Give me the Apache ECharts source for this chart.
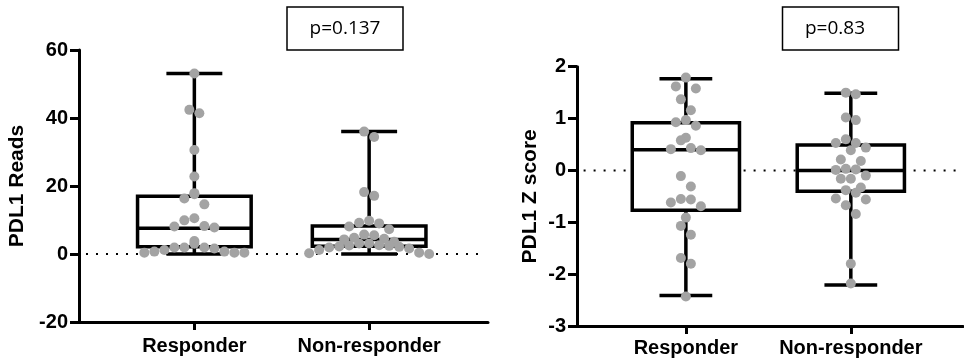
<!DOCTYPE html>
<html>
<head>
<meta charset="utf-8">
<script src="https://cdn.jsdelivr.net/npm/echarts@6/dist/echarts.min.js"></script>
<style>
    html, body {margin: 0; padding: 0; background: #fff;}
    #chartWrap {width: 964px; height: 358px;}
</style>
</head>
<body>
<div id="chartWrap"></div>
<script>
// categories and labels
const categories = ['Responder', 'Non-responder'];
const readsTicks = [-20, 0, 20, 40, 60];
const zTicks = [-3, -2, -1, 0, 1, 2];
const pLabels = ['p=0.137', 'p=0.83'];

// PDL1 reads, one value per patient
const readsResponder = [53.1, 42.4, 41.4, 30.6, 22.8, 17.9, 17.6, 16.3, 14.6, 10.5, 9.9, 8.2, 8.1, 7.8,
    3.8, 3.0, 1.9, 1.9, 1.9, 1.6, 1.2, 0.7, 0.7, 0.4, 0.4, 0.4];
const readsNonResponder = [36.0, 34.4, 18.2, 17.1, 9.8, 9.2, 9.0, 8.1, 7.3, 5.7, 5.5, 4.8, 4.5, 4.3,
    3.6, 3.1, 3.1, 2.6, 2.5, 2.4, 2.2, 2.1, 1.9, 1.6, 1.2, 0.4, 0.2, 0.0];

// PDL1 Z score
const zResponder = [1.79, 1.62, 1.58, 1.37, 1.16, 0.97, 0.93, 0.86, 0.63, 0.58, 0.43, 0.41, 0.39,
    -0.11, -0.31, -0.55, -0.56, -0.62, -0.69, -0.91, -1.07, -1.24, -1.69, -1.80, -2.43];
const zNonResponder = [1.50, 1.47, 1.02, 0.97, 0.60, 0.53, 0.53, 0.44, 0.39, 0.21, 0.18, 0.03, 0.02,
    0.01, -0.10, -0.16, -0.16, -0.33, -0.38, -0.43, -0.54, -0.56, -0.67, -0.84, -1.80, -2.18];

// box stats: min, q1, median, q3, max
const readsBoxResponder = [0, 2.1, 7.6, 17.0, 53.1];
const readsBoxNonResponder = [0, 2.3, 4.3, 8.2, 36.0];
const zBoxResponder = [-2.41, -0.77, 0.40, 0.92, 1.77];
const zBoxNonResponder = [-2.21, -0.40, 0.0, 0.49, 1.49];

const BOX_HW = 0.325;
const CAP_HW = 0.16;
const DOT_R = 5;
const DOT_GAP = 10;
const ROW_H = 11;
const DOT_COLOR = '#a3a3a3';
const X_MIN = -0.66, X_MAX = 1.68;

const boldFont = {fontFamily: 'Liberation Sans', fontWeight: 'bold', color: '#000'};

function boxSeries(idx, boxes) {
    return {
        type: 'custom',
        xAxisIndex: idx,
        yAxisIndex: idx,
        z: 2,
        silent: true,
        data: boxes.map((b, i) => [i].concat(b)),
        encode: {x: 0, y: [1, 2, 3, 4, 5]},
        renderItem: function (params, api) {
            const c = api.value(0);
            const y = [1, 2, 3, 4, 5].map(i => api.coord([c, api.value(i)])[1]);
            const xc = api.coord([c, 0])[0];
            const xl = api.coord([c - BOX_HW, 0])[0];
            const xr = api.coord([c + BOX_HW, 0])[0];
            const cl = api.coord([c - CAP_HW, 0])[0];
            const cr = api.coord([c + CAP_HW, 0])[0];
            const st = {stroke: '#000', lineWidth: 3.5};
            return {
                type: 'group',
                children: [
                    {type: 'line', shape: {x1: xc, y1: y[0], x2: xc, y2: y[4]}, style: st},
                    {type: 'line', shape: {x1: cl, y1: y[0], x2: cr, y2: y[0]}, style: st},
                    {type: 'line', shape: {x1: cl, y1: y[4], x2: cr, y2: y[4]}, style: st},
                    {type: 'rect', shape: {x: xl, y: y[3], width: xr - xl, height: y[1] - y[3]},
                        style: {fill: '#fff', stroke: '#000', lineWidth: 3.5}},
                    {type: 'line', shape: {x1: xl, y1: y[2], x2: xr, y2: y[2]}, style: st}
                ]
            };
        }
    };
}

// rows of dots spread sideways, biggest values in the middle
function layoutSwarm(values, cat, api) {
    const ys = values.map(v => api.coord([cat, v])[1]);
    const order = values.map((v, i) => i).sort((a, b) => ys[b] - ys[a]);
    const off = values.map(() => 0);
    let row = [];
    let rowStart = null;
    const flush = function () {
        const n = row.length;
        const pos = [];
        for (let k = 0; k < n; k++) pos.push((k - (n - 1) / 2) * DOT_GAP);
        pos.sort((a, b) => Math.abs(a) - Math.abs(b) || a - b);
        row.sort((a, b) => values[b] - values[a]);
        row.forEach((idx, k) => { off[idx] = pos[k]; });
        row = [];
    };
    order.forEach(function (i) {
        if (rowStart === null || rowStart - ys[i] >= ROW_H) {
            if (row.length) flush();
            rowStart = ys[i];
        }
        row.push(i);
    });
    if (row.length) flush();
    return off;
}

function swarmSeries(idx, cat, values) {
    let offsets = null;
    return {
        type: 'custom',
        xAxisIndex: idx,
        yAxisIndex: idx,
        z: 3,
        silent: true,
        data: values.map(v => [cat, v]),
        encode: {x: 0, y: 1},
        renderItem: function (params, api) {
            if (params.dataIndex === 0 || !offsets) {
                offsets = layoutSwarm(values, cat, api);
            }
            const p = api.coord([cat, values[params.dataIndex]]);
            return {
                type: 'circle',
                shape: {cx: p[0] + offsets[params.dataIndex], cy: p[1], r: DOT_R},
                style: {fill: DOT_COLOR}
            };
        }
    };
}

function zeroLine(idx) {
    return {
        type: 'line',
        xAxisIndex: idx,
        yAxisIndex: idx,
        z: 1,
        silent: true,
        symbol: 'none',
        data: [[X_MIN + 0.04, 0], [X_MAX - 0.04, 0]],
        lineStyle: {color: '#000', width: 2, type: [2, 8]}
    };
}

function xAxisFor(idx, labelMargin) {
    return {
        type: 'value',
        gridIndex: idx,
        min: X_MIN,
        max: X_MAX,
        position: 'bottom',
        axisLine: {onZero: false, lineStyle: {color: '#000', width: 3}},
        axisTick: {show: true, customValues: [0, 1], length: 8, lineStyle: {color: '#000', width: 3}},
        axisLabel: Object.assign({
            customValues: [0, 1],
            fontSize: 20,
            margin: labelMargin,
            formatter: v => categories[Math.round(v)]
        }, boldFont),
        splitLine: {show: false}
    };
}

function yAxisFor(idx, ticks, name, nameGap) {
    return {
        type: 'value',
        gridIndex: idx,
        min: ticks[0],
        max: ticks[ticks.length - 1],
        interval: ticks[1] - ticks[0],
        name: name,
        nameLocation: 'middle',
        nameGap: nameGap,
        nameTextStyle: Object.assign({fontSize: 21}, boldFont),
        axisLine: {show: true, onZero: false, lineStyle: {color: '#000', width: 3}},
        axisTick: {show: true, length: 9, lineStyle: {color: '#000', width: 3}},
        axisLabel: Object.assign({fontSize: 20, margin: 11}, boldFont),
        splitLine: {show: false}
    };
}

function pBox(x, textX, label) {
    return [{
        type: 'rect',
        shape: {x: x, y: 7, width: 116, height: 43},
        style: {fill: '#fff', stroke: '#000', lineWidth: 1.5}
    }, {
        type: 'text',
        x: textX,
        y: 28.5,
        style: {text: label, font: '19px "Open Sans"', fill: '#000', align: 'center', verticalAlign: 'middle'}
    }];
}

const myChart = echarts.init(document.getElementById('chartWrap'));
myChart.setOption({
    animation: false,
    backgroundColor: '#fff',
    grid: [
        {left: 79, top: 50, width: 409, height: 272},
        {left: 577, top: 66.7, width: 386, height: 259.3}
    ],
    xAxis: [xAxisFor(0, 14), xAxisFor(1, 12)],
    yAxis: [
        yAxisFor(0, readsTicks, 'PDL1 Reads', 51),
        yAxisFor(1, zTicks, 'PDL1 Z score', 36)
    ],
    graphic: pBox(287, 345, pLabels[0]).concat(pBox(782.5, 835, pLabels[1])),
    series: [
        zeroLine(0),
        zeroLine(1),
        boxSeries(0, [readsBoxResponder, readsBoxNonResponder]),
        boxSeries(1, [zBoxResponder, zBoxNonResponder]),
        swarmSeries(0, 0, readsResponder),
        swarmSeries(0, 1, readsNonResponder),
        swarmSeries(1, 0, zResponder),
        swarmSeries(1, 1, zNonResponder)
    ]
});
</script>
</body>
</html>
